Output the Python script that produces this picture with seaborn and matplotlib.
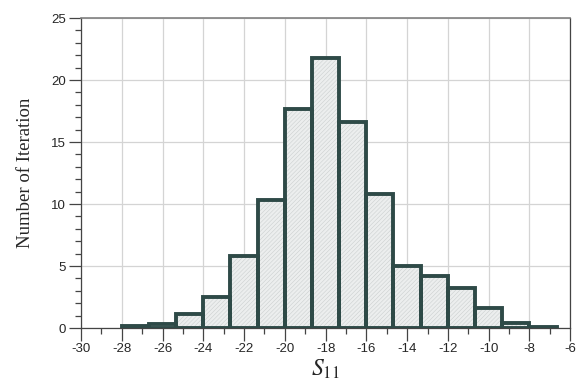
import numpy as np
import matplotlib
matplotlib.use('Agg')
import matplotlib.pyplot as plt
from matplotlib.ticker import MultipleLocator
import seaborn as sns

# bin edges of the S11 histogram and the height of each bin
bin_edges = [-28.0, -26.67, -25.33, -24.0, -22.67, -21.33, -20.0, -18.67, -17.33,
             -16.0, -14.67, -13.33, -12.0, -10.67, -9.33, -8.0, -6.67]
counts = [0.2, 0.35, 1.1, 2.5, 5.8, 10.3, 17.7, 21.8, 16.6, 10.8, 5.0, 4.2, 3.2, 1.6, 0.4, 0.1]
x_ticks = [-30, -28, -26, -24, -22, -20, -18, -16, -14, -12, -10, -8, -6]

centers = [(a + b) / 2 for a, b in zip(bin_edges[:-1], bin_edges[1:])]

sns.set_style("white")
plt.rcParams['font.family'] = ['Liberation Sans', 'DejaVu Sans']
plt.rcParams['mathtext.fontset'] = 'stix'
plt.rcParams['hatch.linewidth'] = 0.4

fig = plt.figure(figsize=(5.83, 3.92), dpi=100)
ax = fig.add_axes([0.139, 0.163, 0.839, 0.791])

# light textured fill (hatch takes the edge colour), then the dark outlines on top
sns.histplot(x=centers, weights=counts, bins=bin_edges, ax=ax,
             color='#eceeee', alpha=1, edgecolor='#ccd0d0', linewidth=0,
             hatch='////////', zorder=3)
sns.histplot(x=centers, weights=counts, bins=bin_edges, ax=ax,
             fill=False, color='#2e4a47', linewidth=2.8, zorder=4)

ax.set_xlim(-30, -6)
ax.set_ylim(0, 25)
ax.set_xticks(x_ticks)
ax.set_xticklabels([str(t) for t in x_ticks])
ax.xaxis.set_minor_locator(MultipleLocator(1))
ax.yaxis.set_major_locator(MultipleLocator(5))
ax.yaxis.set_minor_locator(MultipleLocator(1))
ax.grid(True, which='major', color='#d4d4d4', linewidth=0.9, zorder=0)
ax.set_axisbelow(True)

ax.tick_params(axis='both', which='major', length=9, width=0.9, color='#444444',
               labelsize=9.5, direction='out', pad=2)
ax.tick_params(axis='both', which='minor', length=4.5, width=0.9, color='#444444',
               direction='out')
ax.tick_params(axis='x', which='both', bottom=True)
ax.tick_params(axis='y', which='both', left=True)

for side in ['left', 'bottom', 'right']:
    ax.spines[side].set_color('#444444')
    ax.spines[side].set_linewidth(0.9)
ax.spines['top'].set_color('#808080')
ax.spines['top'].set_linewidth(1.2)

ax.set_ylabel('Number of Iteration', family=['Liberation Serif'], fontsize=13.5, labelpad=12)
ax.set_xlabel('$S_{11}$', fontsize=17, labelpad=2)

plt.savefig('out.png', dpi=100)
